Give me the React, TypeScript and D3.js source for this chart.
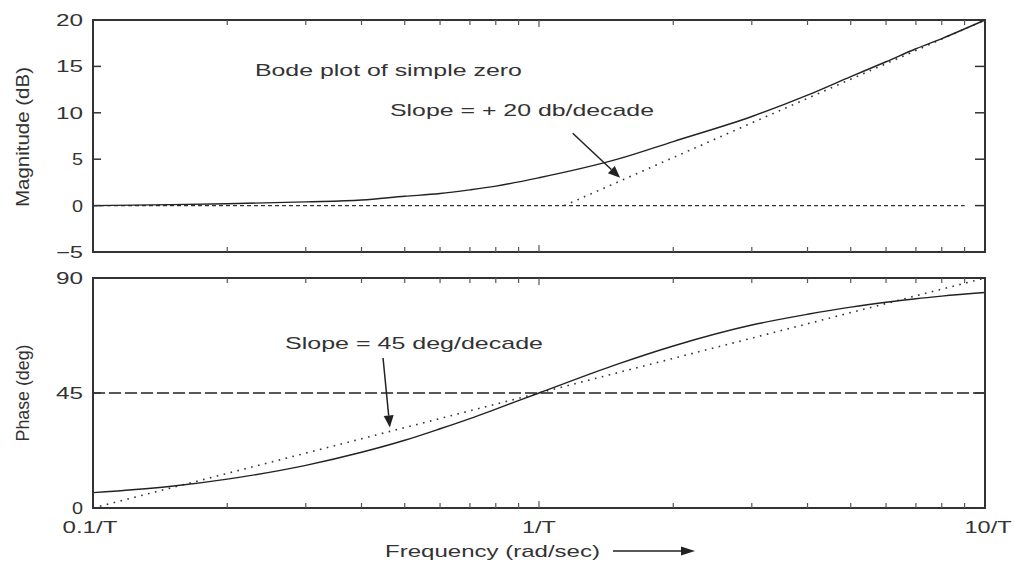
import React from "react";
import * as d3 from "d3";

// ---- data ----
const freqs = [0.1, 0.15, 0.2, 0.3, 0.4, 0.5, 0.6, 0.7, 0.8, 1, 1.5, 2, 3, 4, 5, 6, 7, 8, 10];
const magnitudeDb = [0.0, 0.1, 0.2, 0.4, 0.6, 1.0, 1.3, 1.7, 2.1, 3.0, 5.0, 6.9, 9.6, 11.9, 13.9, 15.5, 16.9, 18.0, 20.0];
const phaseDeg = [6, 8.5, 11.3, 16.7, 21.8, 26.5, 31, 35, 38.7, 45, 56.3, 63.4, 71.6, 75.8, 78.6, 80.5, 81.9, 82.9, 84.3];

const magAsymFreq = [1.14, 10];
const magAsymDb = [0, 20];
const magZeroFreq = [0.1, 9];
const magZeroDb = [0, 0];

const phaseAsymFreq = [0.1, 10];
const phaseAsymDeg = [0, 90];
const phaseRefFreq = [0.1, 10];
const phaseRefDeg = [45, 45];

const magTicks = [20, 15, 10, 5, 0, -5];
const phaseTicks = [90, 45, 0];
const freqTicks = [0.1, 1, 10];
const freqTickLabels = ["0.1/T", "1/T", "10/T"];
const minorFreqTicks = [0.2, 0.3, 0.4, 0.5, 0.6, 0.7, 0.8, 0.9, 2, 3, 4, 5, 6, 7, 8, 9];

const FONT = "'Liberation Sans', Arial, Helvetica, sans-serif";
const INK = "#222";

export default function App() {
  const W = 1016, H = 566;
  const x = d3.scaleLog().domain([0.1, 10]).range([93, 985]);
  const yMag = d3.scaleLinear().domain([-5, 20]).range([252, 20]);
  const yPh = d3.scaleLinear().domain([0, 90]).range([508, 278]);

  const mk = (xs: number[], ys: number[], ys2: d3.ScaleLinear<number, number>, smooth = false) => {
    const gen = d3.line<number>().x((_, i) => x(xs[i])).y((v) => ys2(v));
    if (smooth) gen.curve(d3.curveMonotoneX);
    return gen(ys) || "";
  };

  const tickLabelW = (s: string) => (s.length === 1 ? 11 : s.length * 13.5);

  const frame = (ys: d3.ScaleLinear<number, number>, yTicks: number[], key: string) => {
    const [y0, y1] = ys.range();
    const x0 = x.range()[0], x1 = x.range()[1];
    return (
      <g key={key}>
        <rect x={x0} y={y1} width={x1 - x0} height={y0 - y1} fill="none" stroke="#333" strokeWidth={2} />
        {yTicks.map((t) => (
          <g key={t}>
            <line x1={x0} x2={x0 + 8} y1={ys(t)} y2={ys(t)} stroke="#333" strokeWidth={1.5} />
            <line x1={x1} x2={x1 - 10} y1={ys(t)} y2={ys(t)} stroke="#333" strokeWidth={1.5} />
            <text
              x={83}
              y={ys(t) + 6}
              textAnchor="end"
              fontSize={16}
              fontFamily={FONT}
              fill="#333"
              textLength={tickLabelW(String(t).replace("-", "−"))}
              lengthAdjust="spacingAndGlyphs"
            >
              {String(t).replace("-", "−")}
            </text>
          </g>
        ))}
        {[...minorFreqTicks, 1].map((f) => {
          const len = f === 1 ? 7 : 5;
          return (
            <g key={f}>
              <line x1={x(f)} x2={x(f)} y1={y0} y2={y0 - len} stroke="#555" strokeWidth={1.2} />
              <line x1={x(f)} x2={x(f)} y1={y1} y2={y1 + len} stroke="#555" strokeWidth={1.2} />
            </g>
          );
        })}
      </g>
    );
  };

  const arrow = (xa: number, ya: number, xb: number, yb: number, head = 12, hw = 5) => {
    const ang = Math.atan2(yb - ya, xb - xa);
    const bx = xb - head * Math.cos(ang), by = yb - head * Math.sin(ang);
    const px = -Math.sin(ang) * hw, py = Math.cos(ang) * hw;
    return (
      <g>
        <line x1={xa} y1={ya} x2={bx} y2={by} stroke={INK} strokeWidth={1.5} />
        <path d={`M${xb},${yb}L${bx + px},${by + py}L${bx - px},${by - py}Z`} fill={INK} />
      </g>
    );
  };

  return (
    <svg width={W} height={H} style={{ position: "absolute", left: 0, top: 0, background: "#fff" }}>
      <rect x={0} y={0} width={W} height={H} fill="#fff" />

      {/* ---- magnitude panel ---- */}
      <path d={mk(magZeroFreq, magZeroDb, yMag)} fill="none" stroke="#333" strokeWidth={1.2} strokeDasharray="4 3" />
      <path d={mk(magAsymFreq, magAsymDb, yMag)} fill="none" stroke="#333" strokeWidth={1.6} strokeDasharray="1.6 5.5" />
      <path d={mk(freqs, magnitudeDb, yMag, true)} fill="none" stroke={INK} strokeWidth={1.4} />
      {frame(yMag, magTicks, "mag")}

      <text x={x(0.2307)} y={yMag(13.97)} fontSize={17} fontFamily={FONT} fill="#333" textLength={267} lengthAdjust="spacingAndGlyphs">
        Bode plot of simple zero
      </text>
      <text x={x(0.4634)} y={yMag(9.66)} fontSize={17} fontFamily={FONT} fill="#333" textLength={264} lengthAdjust="spacingAndGlyphs">
        Slope = + 20 db/decade
      </text>
      {arrow(x(1.19), yMag(7.8), x(1.52), yMag(3.0))}

      <text
        transform={`translate(29,137) rotate(-90)`}
        textAnchor="middle"
        fontSize={18}
        fontFamily={FONT}
        fill="#333"
        textLength={140}
        lengthAdjust="spacingAndGlyphs"
      >
        Magnitude (dB)
      </text>

      {/* ---- phase panel ---- */}
      <path d={mk(phaseRefFreq, phaseRefDeg, yPh)} fill="none" stroke="#222" strokeWidth={1.4} strokeDasharray="12 4" />
      <path d={mk(phaseAsymFreq, phaseAsymDeg, yPh)} fill="none" stroke="#333" strokeWidth={1.6} strokeDasharray="1.6 5.5" />
      <path d={mk(freqs, phaseDeg, yPh, true)} fill="none" stroke={INK} strokeWidth={1.4} />
      {frame(yPh, phaseTicks, "ph")}

      <text x={x(0.2695)} y={yPh(62.2)} fontSize={17} fontFamily={FONT} fill="#333" textLength={258} lengthAdjust="spacingAndGlyphs">
        Slope = 45 deg/decade
      </text>
      {arrow(x(0.447), yPh(58.7), x(0.463), yPh(31.5))}

      <text
        transform={`translate(29,393) rotate(-90)`}
        textAnchor="middle"
        fontSize={18}
        fontFamily={FONT}
        fill="#333"
        textLength={97}
        lengthAdjust="spacingAndGlyphs"
      >
        Phase (deg)
      </text>

      {/* x tick labels */}
      {freqTicks.map((f, i) => (
        <text
          key={f}
          x={x(f) + (i === 0 ? -3 : i === 2 ? 3 : 0)}
          y={533}
          textAnchor="middle"
          fontSize={16}
          fontFamily={FONT}
          fill="#333"
          textLength={[55, 34, 47][i]}
          lengthAdjust="spacingAndGlyphs"
        >
          {freqTickLabels[i]}
        </text>
      ))}

      <text x={385} y={557} fontSize={17} fontFamily={FONT} fill="#333" textLength={215} lengthAdjust="spacingAndGlyphs">
        Frequency (rad/sec)
      </text>
      {arrow(613, 551, 695, 551, 14, 4.5)}
    </svg>
  );
}
